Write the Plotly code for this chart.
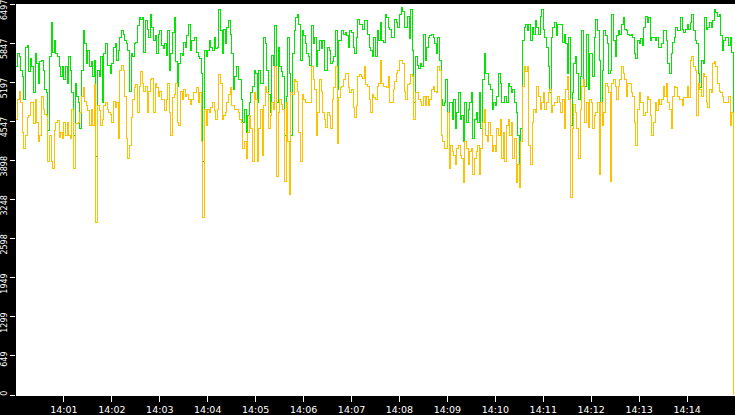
import pandas as pd
import plotly.graph_objects as go

# samples every 2 s from 14:00:00
start = "2024-01-01 14:00:00"
end = "2024-01-01 14:15:00"
step = "2s"

green = [
    5455, 5672, 5618, 5400, 5292, 4911, 5781, 5808, 5373, 5591,
    5455, 5020, 5672, 5509, 5183, 5536, 5563, 5400, 5074, 5020,
    4395, 5618, 6188, 5699, 5889, 5672, 5618, 5455, 5292, 5455,
    5237, 5455, 5183, 5618, 5400, 5020, 4314, 5183, 4966, 4857,
    4422, 5400, 6052, 5835, 5509, 5726, 5455, 5536, 5292, 5563,
    3961, 5400, 5292, 5618, 4857, 5672, 5835, 5482, 5482, 5346,
    5509, 5781, 5835, 5563, 5726, 5944, 6052, 5998, 5889, 5835,
    5726, 5047, 5672, 5618, 5835, 5862,
    6134, 6270, 6242, 6270, 5699, 6215, 6080, 5944, 6324, 6107,
    5889, 5971, 5672, 5998, 6052, 5808, 5754, 5835, 5645, 6052,
    5400, 5672, 6025, 6270, 5536, 5129, 5509, 5672, 5645, 5862,
    5781, 5971, 6161, 5726, 5889, 5889, 5944, 5699, 5618, 5591,
    5346, 3879, 5726, 5618, 5726, 5889, 5781, 5726, 5944, 5754,
    5781, 6406, 6052, 5672, 6080, 5835, 6107, 6215, 5998, 5672,
    5074, 5292, 5455, 5237, 5237, 4911, 4531, 4748, 4368, 4640,
    4857, 5020, 5129, 5400, 5346,
    4857, 5400, 5183, 5183, 5944, 5835, 5400, 4993, 4694, 5645,
    5482, 6134, 4857, 5781, 5455, 5373, 5292, 4314, 4966, 5944,
    5346, 4314, 5672, 6052, 6270, 6324, 6161, 5563, 6052, 5971,
    5835, 5672, 5618, 5482, 6134, 5835, 5944, 5455, 5726, 5889,
    5754, 5889, 5400, 5400, 5781, 5726, 5509, 5536, 5618, 6052,
    5074, 5889, 5889, 6052, 5998, 6025, 5971, 5781, 6052, 6025,
    5781, 5672, 5944, 6242, 6161, 6161, 6080, 6215, 6215, 5998,
    5781, 5726, 5618, 5944, 5618,
    6052, 5889, 6188, 5889, 5862, 6324, 6270, 6107, 6080, 5944,
    5944, 6242, 6188, 6107, 6324, 6433, 6378, 6107, 6107, 6297,
    5917, 6406, 5726, 4857, 5618, 5482, 5428, 5509, 5455, 5998,
    5563, 5781, 5944, 5971, 5998, 5944, 5835, 5672, 5944, 5563,
    4911, 4803, 4857, 5237, 4694, 4857, 4857, 4585, 4911, 4422,
    4694, 5020, 4585, 4640, 4205, 4857, 4531, 4748, 4857, 5020,
    4259, 4585, 4694, 4531, 5020, 4422, 5237, 5672, 5346, 5346,
    5156, 5074, 4748, 4857, 4803,
    4966, 5346, 5183, 4857, 4857, 4966, 4857, 5183, 5129, 5020,
    5074, 4857, 4694, 4314, 3771, 4422, 5889, 6107, 6161, 6052,
    6161, 5889, 6107, 5998, 6215, 6107, 5998, 6297, 6406, 6080,
    5944, 5781, 5455, 5020, 5944, 6107, 6188, 5971, 6161, 6161,
    6161, 5862, 5998, 5835, 5346, 5944, 4477, 5020, 5509, 5618,
    5346, 4911, 5292, 6052, 5183, 5129, 5998, 5074, 5672, 5672,
    5292, 5944, 6242, 6052, 5563, 4857, 5400, 6052, 5971, 5835,
    5346, 5400, 6324, 5889, 5618,
    5971, 6052, 5998, 6161, 6270, 6080, 6052, 5998, 5971, 5998,
    5944, 5672, 5591, 5889, 5835, 5917, 5808, 6107, 6297, 6188,
    6270, 5889, 5944, 5944, 5889, 5944, 5781, 5781, 5835, 6052,
    6052, 5889, 5509, 5346, 5672, 5862, 5944, 6107, 6052, 6052,
    6270, 6080, 6025, 6080, 6161, 6080, 6188, 6324, 6052, 5889,
    5835, 5346, 5102, 5563, 5509, 6270, 6080, 6107, 6188, 6107,
    6215, 6406, 6351, 6297, 6324, 5971, 5726, 5889, 5944, 5944,
    5808, 5944, 5699, 2460,
]

orange = [
    4585, 4911, 5047, 4857, 4368, 4096, 4314, 4613, 4640, 4857,
    4857, 4504, 4911, 4531, 4205, 4314, 4966, 4748, 4667, 4640,
    3879, 4314, 3879, 3771, 4395, 4531, 4558, 4287, 4368, 4259,
    4531, 4314, 4531, 4314, 4259, 4748, 3771, 4504, 4504, 4531,
    4694, 4966, 5102, 4884, 4803, 4721, 4477, 4748, 4477, 5156,
    2874, 4803, 4721, 4477, 4585, 4803, 4857, 4748, 4694, 4667,
    4531, 4884, 4776, 4857, 4259, 5400, 5482, 5400, 4966, 4259,
    3933, 4151, 4613, 4911, 5102, 5156,
    4694, 5129, 5373, 5183, 5047, 5129, 4694, 5047, 5237, 5265,
    4694, 5183, 5102, 4966, 5047, 4911, 4911, 4721, 4911, 5183,
    4694, 4314, 4939, 4993, 5183, 4531, 4477, 5047, 4911, 5074,
    4966, 4993, 4911, 4830, 4911, 5020, 5020, 5102, 4857, 5020,
    4205, 2956, 4748, 4477, 4748, 4694, 4776, 4857, 4721, 4585,
    4748, 5319, 5183, 4585, 4640, 4694, 4857, 4993, 5102, 4803,
    4803, 4748, 4748, 4694, 4585, 4531, 4096, 4205, 3933, 4368,
    4640, 4422, 3879, 5020, 4911,
    3879, 4422, 4748, 3988, 4803, 5129, 5020, 4422, 4640, 4857,
    4748, 5455, 3635, 4694, 4911, 4830, 4748, 3553, 4857, 4205,
    3336, 5020, 4993, 5237, 5210, 5047, 4368, 3879, 4993, 4911,
    4857, 4857, 4857, 4857, 5455, 5237, 5074, 4314, 4694, 5237,
    5047, 4694, 4585, 4450, 4694, 4640, 4422, 4911, 5102, 5455,
    4178, 4939, 5102, 5129, 5237, 5346, 5346, 5102, 5020, 5074,
    4776, 4613, 4803, 5292, 5319, 5292, 5265, 5455, 5156, 5129,
    4911, 4694, 4993, 4939, 4911,
    5129, 5183, 5563, 5183, 5129, 5129, 5102, 5292, 4857, 4857,
    5074, 5210, 5346, 5400, 5563, 5563, 5509, 5047, 4911, 5156,
    5183, 5319, 5292, 4585, 5020, 5020, 4911, 4884, 4803, 4966,
    4803, 4966, 4803, 4911, 5074, 5129, 5047, 5020, 5455, 5400,
    4314, 4205, 4096, 4096, 4694, 3771, 4151, 4042, 3988, 3825,
    4096, 4151, 3988, 3933, 3526, 4205, 4096, 3825, 4042, 4096,
    3662, 3933, 4042, 4151, 3662, 4096, 4531, 4748, 4314, 4205,
    4531, 4314, 4042, 4151, 4042,
    4422, 4314, 4585, 3933, 4368, 3879, 4477, 4585, 4314, 4531,
    3933, 4259, 3526, 3825, 3445, 4205, 5129, 5455, 5373, 5455,
    4151, 3825, 4531, 4748, 4694, 5129, 4966, 4748, 4857, 5020,
    4748, 4857, 5020, 5074, 4694, 4803, 4857, 4857, 4966, 4857,
    4694, 4911, 4422, 5074, 5292, 4911, 3282, 4422, 4830, 4694,
    4422, 3933, 4748, 5129, 5237, 4531, 4857, 4450, 4911, 4857,
    4422, 4640, 4694, 4857, 3662, 4857, 4477, 4694, 5183, 5129,
    5020, 3553, 5183, 5237, 5129,
    4911, 5129, 5237, 5455, 5346, 5237, 4966, 5183, 5183, 5020,
    4966, 4531, 4151, 4748, 5020, 4857, 4857, 4640, 4694, 4966,
    4911, 4640, 4314, 4531, 4857, 4721, 4911, 4830, 4911, 5129,
    4966, 5183, 4857, 4748, 4422, 4966, 5129, 5102, 4966, 4911,
    4911, 4803, 4939, 4939, 5129, 4939, 5563, 5618, 5455, 5400,
    4640, 5183, 5074, 4966, 5346, 5292, 4857, 4776, 5074, 5020,
    5509, 5536, 5455, 5183, 5047, 5020, 4966, 4857, 4857, 4857,
    4966, 4477, 4694, 0,
]

y_max = 6497
y_labels = ["0", "649", "1299", "1949", "2598", "3248",
            "3898", "4547", "5197", "5847", "6497"]
x_labels = ["14:01", "14:02", "14:03", "14:04", "14:05", "14:06", "14:07",
            "14:08", "14:09", "14:10", "14:11", "14:12", "14:13", "14:14"]

times = pd.date_range(start, periods=len(green), freq=step)
x_ticks = [pd.Timestamp("2024-01-01 " + t) for t in x_labels]
y_ticks = [y_max * i / 10 for i in range(len(y_labels))]
# pad short labels (2 nbsp ~ one digit) so every label ends just above its tick
y_text = ["\u00a0\u00a0" * (4 - len(s)) + s for s in y_labels]

fig = go.Figure()
fig.add_trace(go.Scatter(x=times, y=green, mode="lines",
                         line=dict(color="#00e600", width=1, shape="hv"),
                         hoverinfo="skip"))
fig.add_trace(go.Scatter(x=times, y=orange, mode="lines",
                         line=dict(color="#ffc000", width=1, shape="hv"),
                         hoverinfo="skip"))

fig.update_layout(
    width=735, height=415,
    margin=dict(l=15, r=0, t=0, b=16, pad=0),
    paper_bgcolor="black", plot_bgcolor="white",
    showlegend=False,
    font=dict(family="DejaVu Sans", color="white"),
)
fig.update_xaxes(
    type="date", range=[start, end],
    tickvals=x_ticks, ticktext=x_labels,
    ticks="outside", ticklen=6, tickwidth=1, tickcolor="white",
    tickfont=dict(size=9.5, color="white"),
    showgrid=False, zeroline=False,
    showline=True, linecolor="white", linewidth=1,
)
fig.update_yaxes(
    range=[0, y_max],
    tickvals=y_ticks, ticktext=y_text,
    tickangle=-90, ticklabelposition="outside", ticklabelshift=7,
    ticklabeloverflow="allow",
    ticks="outside", ticklen=5, tickwidth=1, tickcolor="white",
    tickfont=dict(size=8, color="white"),
    showgrid=False, zeroline=False, showline=False,
)

crisp = ("document.querySelectorAll('.scatterlayer path').forEach("
         "function(p){p.style.shapeRendering='crispEdges';});"
         "document.body.style.margin='0';")
fig.write_html("out.html", config={"displayModeBar": False}, post_script=crisp)
